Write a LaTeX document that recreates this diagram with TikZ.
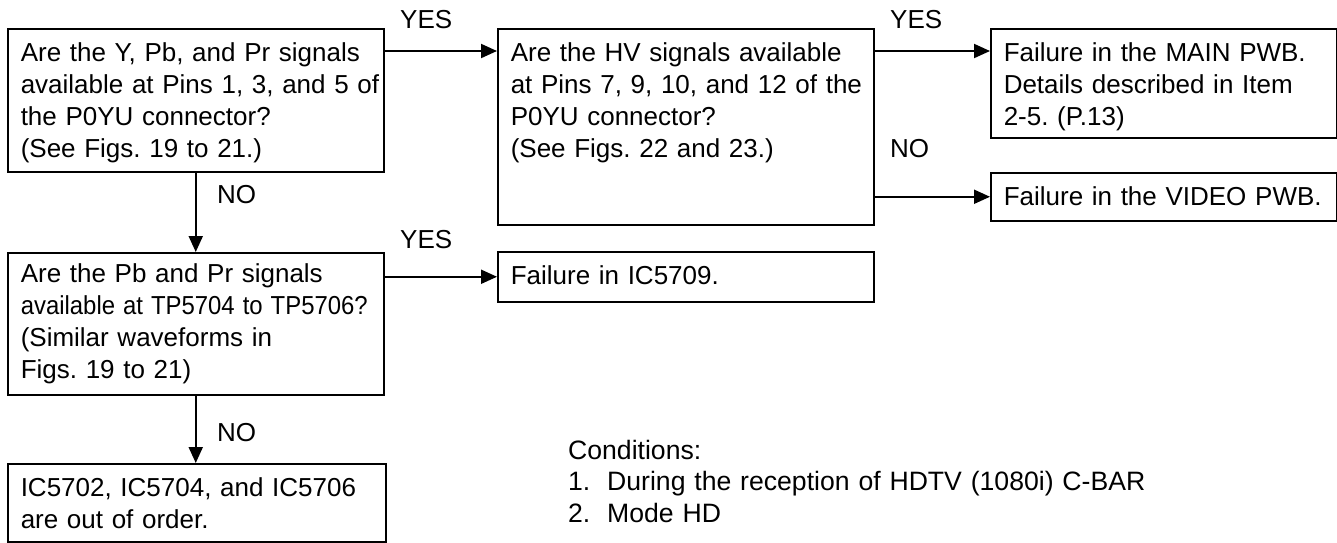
\documentclass[tikz,border=0pt]{standalone}
\usepackage{fontspec}
\setmainfont{Liberation Sans}
\usepackage{graphicx}
\usepackage{tikz}
\usetikzlibrary{arrows.meta}
\newcommand{\chartfont}{\fontsize{26}{32}\selectfont\frenchspacing}
\newcommand{\notefont}{\fontsize{26.6}{31.5}\selectfont\frenchspacing}

\begin{document}
\begin{tikzpicture}[
    x=1pt, y=-1pt,
    box/.style={draw, line width=1.5pt, rectangle, anchor=north west, align=left, font=\chartfont, inner xsep=13pt, inner ysep=14pt, text height=19pt,
        execute at begin node={\rightskip=0pt plus 1fil minus 60pt}},
    answer/.style={anchor=base west, inner sep=0pt, font=\chartfont},
    arrow/.style={-{Triangle[length=16pt, width=14pt]}, line width=2pt}
]
    \useasboundingbox (0,0) rectangle (1337,542);

    % Left column: signal checks
    \node[box, text width=350pt, text depth=96pt] (ypbpr) at (7,28) {Are the Y, Pb, and Pr signals\\available at Pins 1, 3, and 5 of\\the P0YU connector?\\(See Figs. 19 to 21.)};
    \node[box, text width=350pt, text height=16pt, text depth=98pt] (pbpr) at (7,252) {Are the Pb and Pr signals\\\scalebox{0.92}[1]{available at TP5704 to TP5706?}\\(Similar waveforms in\\Figs. 19 to 21)};
    \node[box, text width=352pt, text depth=31pt] (icfail) at (7,463) {IC5702, IC5704, and IC5706\\are out of order.};

    % Middle column
    \node[box, text width=350pt, text depth=149pt] (hv) at (497,28) {Are the HV signals available\\at Pins 7, 9, 10, and 12 of the\\P0YU connector?\\(See Figs. 22 and 23.)};
    \node[box, text width=350pt, text depth=3pt] (ic5709) at (497,251) {Failure in IC5709.};

    % Right column: results
    \node[box, text width=320pt, text depth=62pt] (mainpwb) at (990,28) {Failure in the MAIN PWB.\\Details described in Item\\2-5. (P.13)};
    \node[box, text width=320pt, text depth=1pt] (videopwb) at (990,172) {Failure in the VIDEO PWB.};

    % Answer labels
    \node[answer] (yes1) at (400,28) {YES};
    \node[answer] (yes2) at (890,28) {YES};
    \node[answer] (no2) at (890,157) {NO};
    \node[answer] (no1) at (217,203) {NO};
    \node[answer] (yes3) at (400,248) {YES};
    \node[answer] (no3) at (217,441) {NO};

    % Conditions
    \node[anchor=north west, inner sep=0pt, text width=620pt, text height=19pt, align=left, font=\notefont] (cond) at (568,440) {Conditions:\\\makebox[39pt][l]{1.}During the reception of HDTV (1080i) C-BAR\\\makebox[39pt][l]{2.}Mode HD};

    % Connections
    \draw[arrow] ([yshift=-23pt]ypbpr.north east) -- ([yshift=-23pt]hv.north west);
    \draw[arrow] ([yshift=-23pt]hv.north east) -- ([yshift=-23pt]mainpwb.north west);
    \draw[arrow] (hv.east |- videopwb.west) -- (videopwb.west);
    \draw[arrow] (ypbpr.south) -- (pbpr.north);
    \draw[arrow] (pbpr.east |- ic5709.west) -- (ic5709.west);
    \draw[arrow] (pbpr.south) -- (pbpr.south |- icfail.north);

\end{tikzpicture}
\end{document}
